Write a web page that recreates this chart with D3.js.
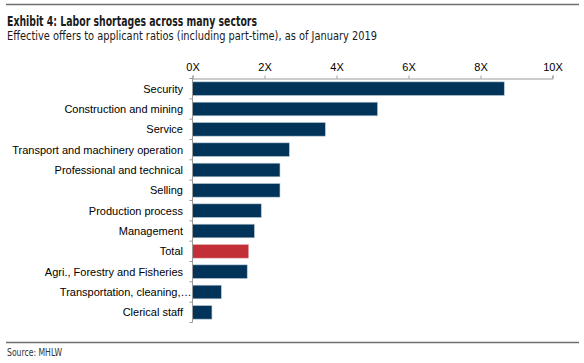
<!DOCTYPE html>
<html lang="en">
<head>
  <title>Labor shortages</title>
  <meta charset="utf-8">
  <script src="https://d3js.org/d3.v7.min.js"></script>
  <style>
    body { margin: 0; background: #fff; }
    .narrow { font-family: "Liberation Sans Narrow", "DejaVu Sans Condensed", "Liberation Sans", sans-serif; }
    .axis text { font-family: "Liberation Sans", Arial, sans-serif; font-size: 11px; fill: #000; }
    .axis path, .axis line { stroke: #9a9a9a; }
  </style>
</head>
<body>
<svg id="chart"></svg>
<script>

// Data
var categories = ['Security', 'Construction and mining', 'Service', 'Transport and machinery operation',
  'Professional and technical', 'Selling', 'Production process', 'Management', 'Total',
  'Agri., Forestry and Fisheries', 'Transportation, cleaning,\u2026', 'Clerical staff'];
var values = [8.66, 5.14, 3.69, 2.69, 2.43, 2.43, 1.91, 1.72, 1.56, 1.52, 0.80, 0.54];
var xTicks = [0, 2, 4, 6, 8, 10];
var highlight = 'Total';

// Layout
var width = 584, height = 363;
var svg = d3.select('#chart').attr('width', width).attr('height', height);

var x = d3.scaleLinear().domain([0, 10]).range([192.5, 552.5]);
var y = d3.scaleBand().domain(categories).range([78.5, 322.5]).paddingInner(0.33).paddingOuter(0.165);

// header / footer rules
svg.append('line').attr('x1', 6).attr('x2', 579).attr('y1', 4.5).attr('y2', 4.5)
  .attr('stroke', '#6e6e6e').attr('stroke-width', 1.3);
svg.append('line').attr('x1', 6).attr('x2', 579).attr('y1', 342.5).attr('y2', 342.5)
  .attr('stroke', '#6e6e6e').attr('stroke-width', 1.3);

svg.append('text').attr('class', 'narrow').attr('x', 7).attr('y', 26)
  .attr('font-size', 14).attr('font-weight', 'bold').attr('fill', '#1a1a1a')
  .attr('textLength', 250).attr('lengthAdjust', 'spacingAndGlyphs')
  .text('Exhibit 4: Labor shortages across many sectors');
svg.append('text').attr('class', 'narrow').attr('x', 7).attr('y', 40)
  .attr('font-size', 12.5).attr('fill', '#1a1a1a')
  .attr('textLength', 370).attr('lengthAdjust', 'spacingAndGlyphs')
  .text('Effective offers to applicant ratios (including part-time), as of January 2019');
svg.append('text').attr('class', 'narrow').attr('x', 7).attr('y', 356)
  .attr('font-size', 10.5).attr('fill', '#333')
  .attr('textLength', 55).attr('lengthAdjust', 'spacingAndGlyphs')
  .text('Source: MHLW');

// bars
svg.append('g').selectAll('rect').data(categories).join('rect')
  .attr('x', x(0))
  .attr('y', d => y(d))
  .attr('width', (d, i) => x(values[i]) - x(0))
  .attr('height', y.bandwidth())
  .attr('fill', d => d == highlight ? '#c22f37' : '#023459')
  .attr('stroke', d => d == highlight ? '#e8b5b8' : '#b9c8d5')
  .attr('stroke-width', 0.6);

// top axis
var xAxis = svg.append('g').attr('class', 'axis').attr('transform', 'translate(0,78.5)')
  .call(d3.axisTop(x).tickValues(xTicks).tickSize(3).tickPadding(5).tickFormat(d => d + 'X'));

// left axis: ticks sit between the bands
var step = y.step();
var bounds = categories.map(d => y(d) - step * 0.165).concat([y(categories[categories.length - 1]) + y.bandwidth() + step * 0.165]);
var yAxis = svg.append('g').attr('class', 'axis');
yAxis.append('line').attr('x1', x(0)).attr('x2', x(0)).attr('y1', 78.5).attr('y2', bounds[bounds.length - 1]);
yAxis.selectAll('.tk').data(bounds).join('line').attr('class', 'tk')
  .attr('x1', x(0) - 3).attr('x2', x(0)).attr('y1', d => d).attr('y2', d => d);
// truncated labels run right up to the axis
yAxis.selectAll('.lbl').data(categories).join('text').attr('class', 'lbl')
  .attr('x', d => d.endsWith('\u2026') ? x(0) - 1 : 183)
  .attr('y', d => y(d) + y.bandwidth() / 2).attr('dy', '0.35em')
  .attr('text-anchor', 'end').text(d => d);

</script>
</body>
</html>
